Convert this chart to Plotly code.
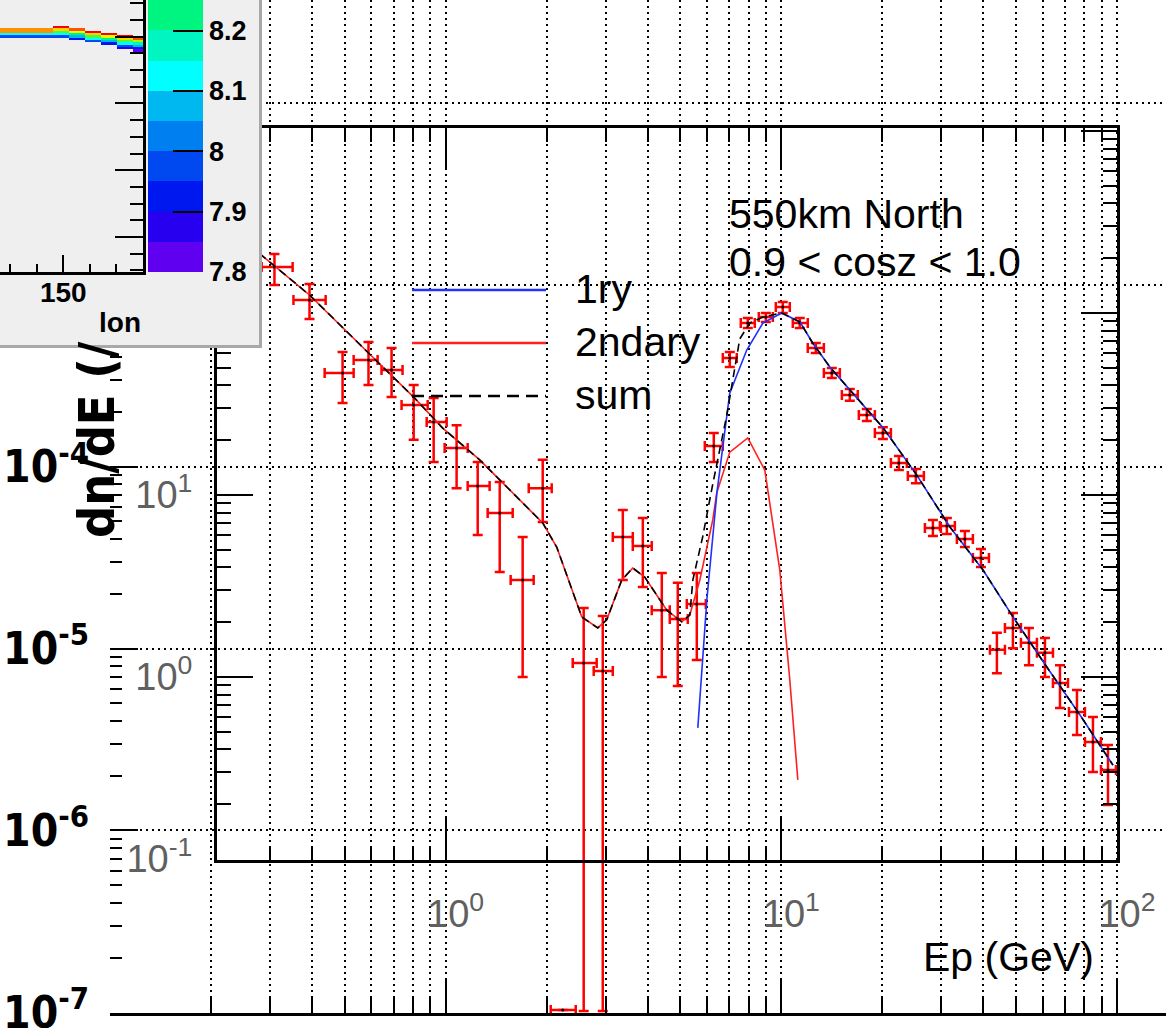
import numpy as np
import plotly.graph_objects as go

W, H = 1166, 1028

energy = [0.309, 0.393, 0.493, 0.589, 0.690, 0.803, 0.921, 1.078, 1.246, 1.449,
          1.696, 1.946, 2.233, 2.578, 2.938, 3.371, 3.867, 4.405, 4.915, 5.600,
          6.293, 7.023, 7.946, 8.992, 10.10, 11.35, 12.67, 14.14, 16.00, 17.98,
          20.07, 22.40, 25.17, 28.29, 31.13, 35.23, 39.33, 43.88, 48.98, 54.67,
          61.02, 67.64, 76.00, 84.82, 94.03]
energy_lo = [0.283, 0.352, 0.436, 0.532, 0.644, 0.739, 0.878, 0.993, 1.163, 1.334,
             1.562, 1.768, 2.056, 2.391, 2.761, 3.147, 3.610, 4.111, 4.653, 5.228,
             5.916, 6.694, 7.573, 8.569, 9.630, 10.82, 11.99, 13.39, 15.15, 17.02,
             19.00, 21.21, 23.82, 26.78, 29.68, 33.35, 37.22, 41.83, 46.37, 51.75,
             57.75, 64.46, 71.95, 80.29, 89.61]
energy_hi = [0.350, 0.439, 0.532, 0.627, 0.744, 0.884, 1.007, 1.163, 1.352, 1.584,
             1.829, 2.070, 2.441, 2.818, 3.147, 3.610, 4.111, 4.653, 5.264, 5.957,
             6.694, 7.368, 8.337, 9.434, 10.60, 11.99, 13.39, 14.94, 16.90, 19.00,
             21.21, 23.66, 26.59, 29.88, 32.89, 37.22, 41.55, 46.37, 51.75, 57.75,
             64.46, 71.45, 80.29, 89.61, 99.31]
flux = [178.9, 117.9, 46.8, 55.2, 48.6, 31.2, 25.2, 18.1, 11.2, 7.96,
        3.41, 10.9, 0.0148, 1.194, 1.079, 5.88, 5.25, 2.33, 2.08, 2.52,
        18.6, 56.6, 88.1, 95.1, 107.9, 88.1, 64.2, 46.8, 35.4, 27.5,
        21.9, 15.0, 12.7, 6.59, 6.76, 5.73, 4.51, 1.41, 1.86, 1.54,
        1.36, 0.927, 0.642, 0.440, 0.308]
flux_hi = [211.0, 144.3, 61.1, 69.3, 64.2, 40.2, 34.1, 24.2, 15.2, 11.8,
           5.88, 15.6, 0.0148, 2.394, 2.163, 8.27, 7.47, 3.73, 3.29, 3.73,
           21.9, 61.1, 93.9, 100.1, 114.9, 93.9, 68.4, 49.9, 38.2, 29.7,
           23.6, 16.4, 13.9, 7.29, 7.47, 6.34, 5.05, 1.75, 2.25, 1.86,
           1.64, 1.16, 0.848, 0.603, 0.423]
flux_lo = [142.5, 92.7, 32.0, 40.2, 34.6, 20.1, 15.2, 10.9, 6.03, 3.78,
           1.00, 7.11, 0.0148, 0.0146, 0.0146, 3.41, 3.12, 1.00, 0.892, 1.24,
           15.2, 50.5, 82.7, 89.2, 100.1, 82.7, 60.3, 44.0, 32.9, 25.5,
           20.3, 13.7, 11.6, 5.95, 6.11, 5.18, 4.02, 1.05, 1.44, 1.16,
           1.00, 0.676, 0.480, 0.301, 0.198]
for arr in (energy_lo, energy_hi, flux, flux_hi, flux_lo):
    assert len(arr) == len(energy)

# ---------------- model curves ----------------
e_1ry = [5.64, 6.0, 6.43, 7.02, 7.89, 8.81, 10.03, 11.36, 12.4, 13.95, 16.0,
         20.1, 25.3, 31.8, 39.9, 49.0, 61.8, 77.6, 97.3]
f_1ry = [0.525, 2.65, 10.3, 36.3, 62.6, 88.1, 100, 89.3, 68.4, 50.5, 37.8,
         23.4, 12.9, 6.67, 3.87, 2.14, 1.135, 0.618, 0.328]

e_2nd = [0.243, 0.283, 0.393, 0.589, 0.803, 0.980, 1.263, 1.449, 1.946, 2.142,
         2.342, 2.543, 2.839, 3.019, 3.347, 3.610, 3.918, 4.557, 5.051, 5.338,
         5.716, 6.249, 6.423, 7.023, 7.946, 8.928, 9.897, 10.60, 11.20]
f_2nd = [262, 208, 125.6, 60.3, 34.5, 23.3, 15.6, 12.1, 7.02, 5.18,
         3.29, 2.14, 1.86, 2.06, 3.41, 3.97, 3.54, 2.33, 2.01, 2.19,
         3.4, 7.29, 10.3, 17.2, 20.6, 13.7, 3.87, 0.963, 0.272]

e_sum = [0.243, 0.283, 0.393, 0.589, 0.803, 0.980, 1.263, 1.449, 1.946, 2.142,
         2.342, 2.543, 2.839, 3.019, 3.347, 3.610, 3.918, 4.557, 5.051, 5.338,
         5.45, 5.83, 6.25, 6.88, 7.52, 8.06, 8.81, 10.03, 11.36, 12.4,
         13.95, 16.0, 20.1, 25.3, 31.8, 39.9, 49.0, 61.8, 77.6, 97.3]
f_sum = [262, 208, 125.6, 60.3, 34.5, 23.3, 15.6, 12.1, 7.02, 5.18,
         3.29, 2.14, 1.86, 2.06, 3.41, 3.97, 3.54, 2.33, 2.01, 2.19,
         3.41, 5.88, 11.5, 27.5, 72.0, 88.1, 95.1, 100, 89.3, 68.4,
         50.5, 37.8, 23.4, 12.9, 6.67, 3.87, 2.14, 1.135, 0.618, 0.328]

# ---------------- tick labels ----------------
bg_tickvals = [1e-7, 1e-6, 1e-5, 1e-4, 1e-3, 1e-2]
bg_ticktext = ["10<sup>-7</sup>", "10<sup>-6</sup>", "10<sup>-5</sup>",
               "10<sup>-4</sup>", "10<sup>-3</sup>", "10<sup>-2</sup>"]
fg_xtickvals = [1, 10, 100]
fg_xticktext = ["10<sup>0</sup>", "10<sup>1</sup>", "10<sup>2</sup>"]
fg_ytickvals = [0.1, 1, 10, 100, 1000]
fg_yticktext = ["10<sup>-1</sup>", "10<sup>0</sup>", "10<sup>1</sup>",
                "10<sup>2</sup>", "10<sup>3</sup>"]

# ---------------- inset colour map ----------------
inset_lon_edges = list(range(126, 181, 2))
stripe_lon_lo = [126, 146, 152, 158, 164, 170, 176]
stripe_lon_hi = [146, 152, 158, 164, 170, 176, 181]
stripe_lat_top = [31.35, 31.5, 31.1, 30.8, 30.5, 30.2, 29.9]
stripe_values = [
    [8.475, 8.475, 8.125, 7.975],
    [8.575, 8.425, 8.275, 8.125, 7.975],
    [8.525, 8.375, 8.225, 8.075, 7.925],
    [8.575, 8.425, 8.275, 8.125, 7.975],
    [8.575, 8.375, 8.225, 8.075, 7.925],
    [8.575, 8.425, 8.275, 8.125, 7.975, 7.875],
    [8.525, 8.325, 8.175, 8.075, 7.925, 7.825],
]
cbar_colors = ["#6000f0", "#2800f0", "#0018f0", "#0048f0", "#0080f0", "#00b8f0",
               "#00ffff", "#00f5c0", "#00f580", "#40ff40", "#a0ff00", "#e0ff00",
               "#ffd000", "#ff9000", "#ff5000", "#ff0000"]
cbar_zmin, cbar_zmax = 7.80, 8.60
cbar_tickvals = [7.8, 7.9, 8.0, 8.1, 8.2]
cbar_ticktext = ["7.8", "7.9", "8", "8.1", "8.2"]

# ---------------- helpers ----------------
def px(x):
    return x / W

def py(y):
    return 1 - y / H

SANS = "Liberation Sans, Arial, sans-serif"
NARROW = "Liberation Sans Narrow, DejaVu Sans Condensed, Liberation Sans, Arial, sans-serif"
GRIDDASH = "2px,4px"
GRIDW = 2

fig = go.Figure()

# data points
ex_plus = [h - e for h, e in zip(energy_hi, energy)]
ex_minus = [e - l for l, e in zip(energy_lo, energy)]
ey_plus = [h - f for h, f in zip(flux_hi, flux)]
ey_minus = [f - l for l, f in zip(flux_lo, flux)]
fig.add_trace(go.Scatter(
    x=energy, y=flux, mode="markers", xaxis="x", yaxis="y",
    marker=dict(size=3, color="black"),
    error_x=dict(type="data", symmetric=False, array=ex_plus, arrayminus=ex_minus,
                 color="#ff0000", thickness=2.5, width=5),
    error_y=dict(type="data", symmetric=False, array=ey_plus, arrayminus=ey_minus,
                 color="#ff0000", thickness=2.5, width=5),
    showlegend=False, hoverinfo="skip"))

fig.add_trace(go.Scatter(x=e_2nd, y=f_2nd, mode="lines", xaxis="x", yaxis="y",
                         line=dict(color="#ff2020", width=1.6), showlegend=False))
fig.add_trace(go.Scatter(x=e_1ry, y=f_1ry, mode="lines", xaxis="x", yaxis="y",
                         line=dict(color="#2030ff", width=1.6), showlegend=False))
fig.add_trace(go.Scatter(x=e_sum, y=f_sum, mode="lines", xaxis="x", yaxis="y",
                         line=dict(color="black", width=1.6, dash="8px,5px"),
                         showlegend=False))

# empty traces to activate the other axes
fig.add_trace(go.Scatter(x=[None], y=[None], xaxis="x", yaxis="y2", showlegend=False))
fig.add_trace(go.Scatter(x=[None], y=[None], xaxis="x2", yaxis="y3", showlegend=False))

# inset panel
fig.add_trace(go.Scatter(x=[0, 1, 1, 0, 0], y=[0, 0, 1, 1, 0], mode="lines",
                         fill="toself", fillcolor="#efefef", line=dict(width=0),
                         xaxis="x3", yaxis="y4", showlegend=False, hoverinfo="skip"))

# inset heat map
lat0, dlat, nrows = 26.0, 0.35, 18
lat_edges = [lat0 + dlat * i for i in range(nrows + 1)]
ncols = len(inset_lon_edges) - 1
z = [[None] * ncols for _ in range(nrows)]
for ci in range(ncols):
    c = 0.5 * (inset_lon_edges[ci] + inset_lon_edges[ci + 1])
    for s in range(len(stripe_lon_lo)):
        if stripe_lon_lo[s] <= c < stripe_lon_hi[s]:
            jt = int(round((stripe_lat_top[s] - lat0) / dlat))
            for k, v in enumerate(stripe_values[s]):
                j = jt - 1 - k
                if 0 <= j < nrows:
                    z[j][ci] = v
nb = len(cbar_colors)
cscale = []
for i, col in enumerate(cbar_colors):
    cscale.append([i / nb, col])
    cscale.append([(i + 1) / nb, col])
fig.add_trace(go.Heatmap(
    x=inset_lon_edges, y=lat_edges, z=z, xaxis="x4", yaxis="y5",
    zmin=cbar_zmin, zmax=cbar_zmax, colorscale=cscale, hoverinfo="skip",
    colorbar=dict(x=px(148), xanchor="left", y=py(272), yanchor="bottom",
                  len=nb * 30.2, lenmode="pixels", thickness=55, thicknessmode="pixels",
                  xpad=0, ypad=0, outlinewidth=0,
                  tickmode="array", tickvals=cbar_tickvals, ticktext=cbar_ticktext,
                  ticks="inside", ticklen=30, tickwidth=2, tickcolor="black",
                  tickfont=dict(size=27, color="black", family=SANS, weight="bold"))))

axis_common = dict(zeroline=False, fixedrange=True)

fig.update_layout(
    width=W, height=H, margin=dict(l=0, r=0, t=0, b=0, pad=0, autoexpand=False),
    paper_bgcolor="white", plot_bgcolor="rgba(0,0,0,0)", showlegend=False,
    # full-page background frame (shared energy scale)
    xaxis=dict(type="log", domain=[px(110), 1], range=[-1.0, 2.1461], anchor="y",
               showline=True, linecolor="black", linewidth=3,
               ticks="inside", ticklen=35, tickwidth=1.5, tickcolor="black", dtick=1,
               showticklabels=False,
               showgrid=True, gridcolor="black", gridwidth=GRIDW, griddash=GRIDDASH,
               minor=dict(dtick="D1", ticks="inside", ticklen=16, tickwidth=1.5,
                          tickcolor="black", showgrid=True, gridcolor="black",
                          gridwidth=GRIDW, griddash=GRIDDASH),
               **axis_common),
    yaxis=dict(type="log", domain=[15 / H, 1], range=[-1.8462, 3.7198], anchor="x",
               visible=False, **axis_common),
    yaxis2=dict(type="log", overlaying="y", anchor="x", side="left",
                range=[-7.004, -1.434], showline=False,
                ticks="inside", ticklen=28, tickwidth=1.5, tickcolor="black",
                tickmode="array", tickvals=bg_tickvals, ticktext=bg_ticktext,
                tickfont=dict(size=44, color="black", family=NARROW, weight="bold"),
                ticklabelstandoff=20, ticklabeloverflow="allow",
                showgrid=True, gridcolor="black", gridwidth=GRIDW, griddash=GRIDDASH,
                minor=dict(dtick="D1", ticks="inside", ticklen=12, tickwidth=1.5,
                           tickcolor="black", showgrid=False),
                **axis_common),
    # foreground frame
    xaxis2=dict(type="log", domain=[px(217), px(1117)], range=[-0.681, 2.0], anchor="y3",
                showline=True, mirror="ticks", linecolor="black", linewidth=3,
                ticks="inside", ticklen=42, tickwidth=2, tickcolor="black",
                tickmode="array", tickvals=fg_xtickvals, ticktext=fg_xticktext,
                tickfont=dict(size=38, color="#606060", family=SANS),
                ticklabelstandoff=18, ticklabelshift=10, ticklabeloverflow="allow",
                showgrid=False,
                minor=dict(dtick="D1", ticks="inside", ticklen=14, tickwidth=2,
                           tickcolor="black", showgrid=False),
                **axis_common),
    yaxis3=dict(type="log", domain=[py(860), py(128)], range=[-1.005, 3.016], anchor="x2",
                showline=True, mirror="ticks", linecolor="black", linewidth=3,
                ticks="inside", ticklen=36, tickwidth=2, tickcolor="black",
                tickmode="array", tickvals=fg_ytickvals, ticktext=fg_yticktext,
                tickfont=dict(size=38, color="#606060", family=SANS),
                ticklabelstandoff=14, showgrid=False,
                minor=dict(dtick="D1", ticks="inside", ticklen=14, tickwidth=2,
                           tickcolor="black", showgrid=False),
                **axis_common),
    # inset panel
    xaxis3=dict(domain=[0, px(259)], range=[0, 1], anchor="y4", showline=True,
                linecolor="#a8a8a8", linewidth=3, showticklabels=False, ticks="",
                showgrid=False, **axis_common),
    yaxis4=dict(domain=[py(345), 1], range=[0, 1], anchor="x3", side="right",
                showline=True, linecolor="#a8a8a8", linewidth=3, showticklabels=False,
                ticks="", showgrid=False, **axis_common),
    # inset plot
    xaxis4=dict(domain=[0, px(143)], range=[126.2, 180], anchor="y5", showline=True,
                linecolor="black", linewidth=2.5, ticks="inside", ticklen=17, tickwidth=2,
                tickcolor="black", tickmode="array", tickvals=[150], ticktext=["150"],
                tickfont=dict(size=28, color="black", family=SANS, weight="bold"),
                ticklabelstandoff=-6, showgrid=False,
                minor=dict(tick0=0, dtick=10, ticks="inside", ticklen=8, tickwidth=2,
                           tickcolor="black", showgrid=False),
                **axis_common),
    yaxis5=dict(domain=[py(272), 1], range=[-5.25, 35.5], anchor="x4", side="right",
                showline=True, linecolor="black", linewidth=2.5, ticks="inside",
                ticklen=28, tickwidth=2, tickcolor="black", tick0=0, dtick=10,
                showticklabels=False, showgrid=False,
                minor=dict(tick0=0, dtick=2.5, ticks="inside", ticklen=13, tickwidth=2,
                           tickcolor="black", showgrid=False),
                **axis_common),
)

# legend samples
legend_rows = [("1ry", "#2030ff", "solid", 290),
               ("2ndary", "#ff2020", "solid", 343),
               ("sum", "black", "12px,7px", 396)]
shapes = []
annotations = []
for label, col, dash, yy in legend_rows:
    shapes.append(dict(type="line", xref="paper", yref="paper", x0=px(412), x1=px(546),
                       y0=py(yy), y1=py(yy), layer="above",
                       line=dict(color=col, width=2.5, dash=dash)))
    annotations.append(dict(text=label, x=px(573), y=py(yy - 1), xref="paper", yref="paper",
                            xanchor="left", yanchor="middle", showarrow=False,
                            font=dict(size=41, color="black", family=SANS)))

texts = [("550km North", 727, 214, 41),
         ("0.9 &lt; cosz &lt; 1.0", 727, 262, 41),
         ("Ep (GeV)", 921, 957, 41)]
for t, xx, yy, sz in texts:
    annotations.append(dict(text=t, x=px(xx), y=py(yy), xref="paper", yref="paper",
                            xanchor="left", yanchor="middle", showarrow=False,
                            font=dict(size=sz, color="black", family=SANS)))

annotations.append(dict(text="dn/dE (/", x=px(97), y=py(440), xref="paper", yref="paper",
                        xanchor="center", yanchor="middle", textangle=-90, showarrow=False,
                        font=dict(size=50, color="black", family=NARROW, weight="bold")))
annotations.append(dict(text="lon", x=px(143), y=py(322), xref="paper", yref="paper",
                        xanchor="right", yanchor="middle", showarrow=False,
                        font=dict(size=28, color="black", family=SANS, weight="bold")))

fig.update_layout(shapes=shapes, annotations=annotations)

fig.write_html("out.html")
